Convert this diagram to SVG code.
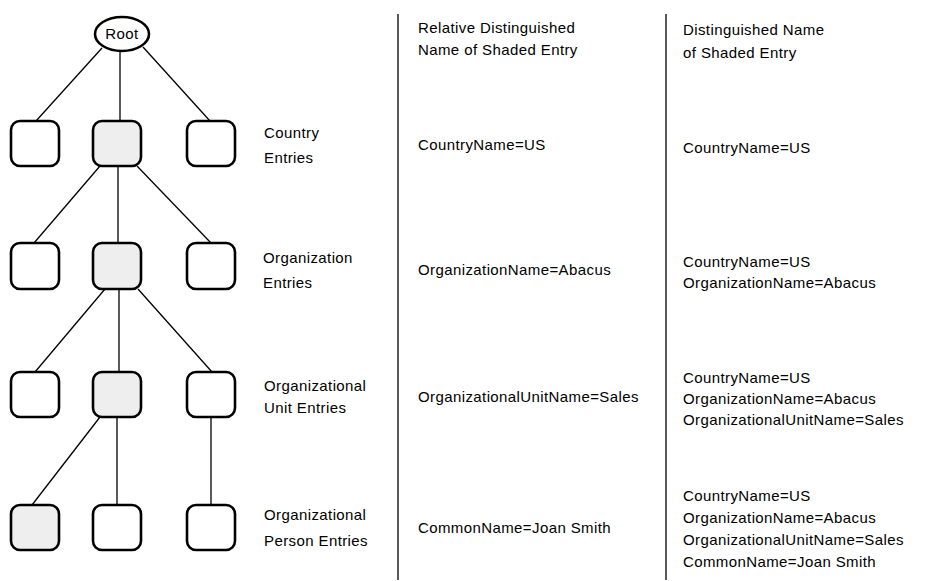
<svg xmlns="http://www.w3.org/2000/svg" width="929" height="581" viewBox="0 0 929 581">
<style>
text{font-family:"Liberation Sans",Arial,sans-serif;font-size:15px;letter-spacing:0.4px;fill:#000}
.box{fill:#fff;stroke:#000;stroke-width:2.6}
.sh{fill:#eeeeee}
.ln{stroke:#000;stroke-width:1.3;fill:none}
</style>
<rect width="929" height="581" fill="#fff"/>
<g id="connectors">
<line class="ln" x1="102" y1="48" x2="36" y2="121"/>
<line class="ln" x1="120" y1="51" x2="120" y2="121"/>
<line class="ln" x1="143" y1="47" x2="210" y2="121"/>
<line class="ln" x1="100" y1="166" x2="34" y2="243"/>
<line class="ln" x1="118" y1="166" x2="118" y2="243"/>
<line class="ln" x1="137" y1="166" x2="211" y2="243"/>
<line class="ln" x1="105" y1="289" x2="35" y2="372"/>
<line class="ln" x1="119" y1="289" x2="119" y2="372"/>
<line class="ln" x1="138" y1="289" x2="212" y2="372"/>
<line class="ln" x1="100" y1="417" x2="32" y2="505"/>
<line class="ln" x1="117" y1="417" x2="117" y2="505"/>
<line class="ln" x1="211" y1="417" x2="211" y2="505"/>
</g>
<g id="dividers">
<line class="ln" x1="398" y1="14" x2="398" y2="580"/>
<line class="ln" x1="666" y1="14" x2="666" y2="580"/>
</g>
<g id="root"><ellipse class="box" cx="122" cy="34" rx="27" ry="17"/><text x="122" y="39" text-anchor="middle">Root</text></g>
<g id="c1"><rect class="box" x="11" y="121" width="48" height="45" rx="9"/></g>
<g id="c2"><rect class="box sh" x="93" y="121" width="48" height="45" rx="9"/></g>
<g id="c3"><rect class="box" x="187" y="121" width="48" height="45" rx="9"/></g>
<g id="o1"><rect class="box" x="11" y="243" width="48" height="46" rx="9"/></g>
<g id="o2"><rect class="box sh" x="93" y="243" width="48" height="46" rx="9"/></g>
<g id="o3"><rect class="box" x="187" y="243" width="48" height="46" rx="9"/></g>
<g id="u1"><rect class="box" x="11" y="372" width="48" height="45" rx="9"/></g>
<g id="u2"><rect class="box sh" x="93" y="372" width="48" height="45" rx="9"/></g>
<g id="u3"><rect class="box" x="187" y="372" width="48" height="45" rx="9"/></g>
<g id="p1"><rect class="box sh" x="11" y="505" width="48" height="45" rx="9"/></g>
<g id="p2"><rect class="box" x="93" y="505" width="48" height="45" rx="9"/></g>
<g id="p3"><rect class="box" x="187" y="505" width="48" height="45" rx="9"/></g>
<g id="labels">
<text x="264" y="138">Country</text><text x="264" y="163">Entries</text>
<text x="263" y="263">Organization</text><text x="263" y="288">Entries</text>
<text x="264" y="391">Organizational</text><text x="264" y="413">Unit Entries</text>
<text x="264" y="520">Organizational</text><text x="264" y="546">Person Entries</text>
</g>
<g id="rdn">
<text x="418" y="33">Relative Distinguished</text><text x="418" y="55">Name of Shaded Entry</text>
<text x="418" y="150">CountryName=US</text>
<text x="418" y="275">OrganizationName=Abacus</text>
<text x="418" y="402">OrganizationalUnitName=Sales</text>
<text x="418" y="533">CommonName=Joan Smith</text>
</g>
<g id="dn">
<text x="683" y="35">Distinguished Name</text><text x="683" y="58">of Shaded Entry</text>
<text x="683" y="153">CountryName=US</text>
<text x="683" y="267">CountryName=US</text><text x="683" y="288">OrganizationName=Abacus</text>
<text x="683" y="383">CountryName=US</text><text x="683" y="404">OrganizationName=Abacus</text><text x="683" y="425">OrganizationalUnitName=Sales</text>
<text x="683" y="501">CountryName=US</text><text x="683" y="523">OrganizationName=Abacus</text><text x="683" y="545">OrganizationalUnitName=Sales</text><text x="683" y="567">CommonName=Joan Smith</text>
</g>
</svg>
